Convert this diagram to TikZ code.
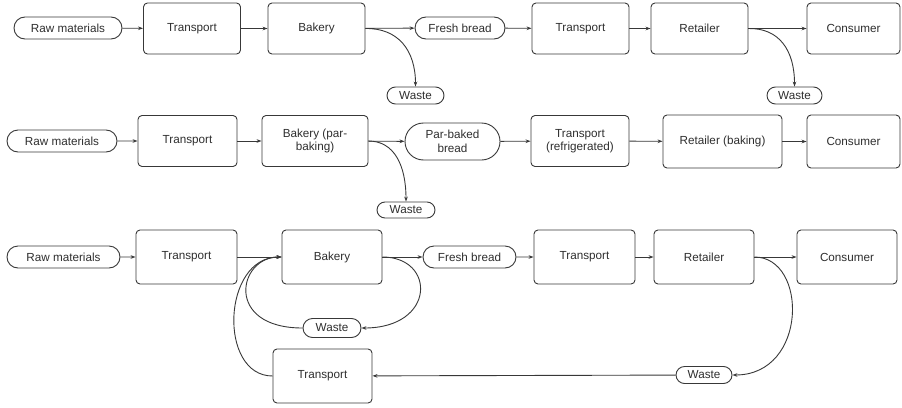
\documentclass[tikz,border=0pt]{standalone}
\usepackage{fontspec}
\setmainfont{Liberation Sans}
\usetikzlibrary{shapes.misc,arrows.meta}
\begin{document}
\begin{tikzpicture}[x=1pt,y=-1pt,
  every node/.style={font=\fontsize{11.7}{13.5}\selectfont, text=black!82,
    draw=black!78, line width=0.9pt, align=center, inner sep=0pt},
  stepbox/.style={rectangle, rounded corners=4pt, minimum width=97pt, minimum height=51pt},
  pill/.style={rounded rectangle, minimum height=22pt},
  wastepill/.style={rounded rectangle, minimum height=17pt, minimum width=57pt},
  flow/.style={draw=black!78, line width=0.9pt, -{Stealth[length=5pt,width=3.6pt]}}
]
\useasboundingbox (0,0) rectangle (902,407);

% ---- conventional chain ----
\node[pill, minimum width=108pt] (a1) at (68,28) {Raw materials};
\node[stepbox] (a2) at (192,28.5) {Transport};
\node[stepbox] (a3) at (316.5,28.5) {Bakery};
\node[pill, minimum width=90pt] (a4) at (460,28) {Fresh bread};
\node[stepbox] (a5) at (580.5,28.5) {Transport};
\node[stepbox] (a6) at (699.5,28.5) {Retailer};
\node[stepbox, minimum width=93pt] (a7) at (853.5,28.5) {Consumer};
\node[wastepill] (aw1) at (415.5,95.5) {Waste};
\node[wastepill, minimum width=55pt] (aw2) at (794.5,95.5) {Waste};

\draw[flow] (a1) -- (a2);
\draw[flow] (a2) -- (a3);
\draw[flow] (a3) -- (a4);
\draw[flow] (a4) -- (a5);
\draw[flow] (a5) -- (a6);
\draw[flow] (a6) -- (a7);
\draw[flow] (a3.east) .. controls (398,28) and (415.5,50) .. (aw1.north);
\draw[flow] (a6.east) .. controls (779,28) and (794.5,50) .. (aw2.north);

% ---- par-baked chain ----
\node[pill, minimum width=110pt] (b1) at (62,141) {Raw materials};
\node[stepbox, minimum width=99pt] (b2) at (187.5,141) {Transport};
\node[stepbox, minimum width=106pt] (b3) at (315,141) {Bakery (par-\\baking)};
\node[rounded rectangle, minimum width=95pt, minimum height=37pt] (b4) at (452.5,141.5) {Par-baked\\bread};
\node[stepbox, minimum width=98pt] (b5) at (580,141) {Transport\\(refrigerated)};
\node[stepbox, minimum width=119pt, minimum height=53pt] (b6) at (722.5,141.5) {Retailer (baking)};
\node[stepbox, minimum width=93pt, minimum height=53pt] (b7) at (853.5,141.5) {Consumer};
\node[wastepill, minimum width=58pt, minimum height=16pt] (bw) at (406,210) {Waste};

\draw[flow] (b1) -- (b2);
\draw[flow] (b2) -- (b3);
\draw[flow] (b3) -- (b4);
\draw[flow] (b4) -- (b5);
\draw[flow] (b5) -- (b6);
\draw[flow] (b6) -- (b7);
\draw[flow] (b3.east) .. controls (394,141) and (406,165) .. (bw.north);

% ---- chain with waste recovery ----
\node[pill, minimum width=113pt] (c1) at (63.5,257) {Raw materials};
\node[stepbox, minimum width=101pt, minimum height=54pt] (c2) at (186.5,257) {Transport};
\node[stepbox, minimum width=100pt, minimum height=54pt] (c3) at (332,257) {Bakery};
\node[pill, minimum width=93pt] (c4) at (469.5,257) {Fresh bread};
\node[stepbox, minimum width=101pt, minimum height=54pt] (c5) at (584.5,257) {Transport};
\node[stepbox, minimum width=100pt, minimum height=54pt] (c6) at (704,257) {Retailer};
\node[stepbox, minimum width=100pt, minimum height=54pt] (c7) at (847,257) {Consumer};
\node[wastepill, minimum width=58pt, minimum height=19pt] (cw1) at (332,328) {Waste};
\node[stepbox, minimum width=99pt, minimum height=54pt] (c8) at (322.5,376) {Transport};
\node[wastepill, minimum width=56pt, minimum height=17pt] (cw2) at (704,375) {Waste};

\draw[flow] (c1) -- (c2);
\draw[flow] (c2) -- (c3);
\draw[flow] (c3) -- (c4);
\draw[flow] (c4) -- (c5);
\draw[flow] (c5) -- (c6);
\draw[flow] (c6) -- (c7);
\draw[flow] (c3.east) .. controls (436,257) and (436,328) .. (cw1.east);
\draw[flow] (cw1.west) .. controls (224,328) and (238,257) .. (c3.west);
\draw[flow] (c8.west) .. controls (218,376) and (222,257) .. (c3.west);
\draw[flow] (c6.east) .. controls (808,257) and (808,375) .. (cw2.east);
\draw[flow] (cw2) -- (c8);
\end{tikzpicture}
\end{document}
